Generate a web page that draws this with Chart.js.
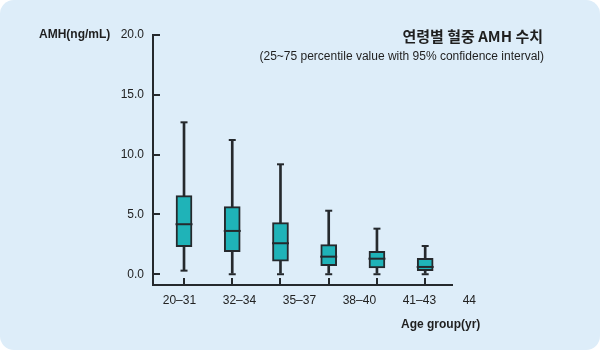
<!DOCTYPE html>
<html>
<head>
<meta charset="utf-8">
<script src="https://cdn.jsdelivr.net/npm/chart.js@4"></script>
<style>
html,body{margin:0;padding:0;background:#ffffff;}
#wrap{position:relative;width:600px;height:350px;background:#ddedf9;border-radius:14px;overflow:hidden;}
#c{position:absolute;left:0;top:0;}
.t{position:absolute;color:#1f1f1f;white-space:nowrap;font-family:"Liberation Sans",Arial,sans-serif;font-size:12px;line-height:12px;}
#title{right:57px;top:28px;font-family:"Noto Sans CJK KR",sans-serif;font-weight:700;font-size:15px;line-height:15px;}
#sub{right:56px;top:50px;}
#ylab{left:39px;top:28px;font-weight:700;}
#xlab{left:401px;top:318px;font-weight:700;}
</style>
</head>
<body>
<div id="wrap">
<canvas id="c" width="600" height="350"></canvas>
<div class="t" id="title">연령별 혈중 AMH 수치</div>
<div class="t" id="sub">(25~75 percentile value with 95% confidence interval)</div>
<div class="t" id="ylab">AMH(ng/mL)</div>
<div class="t" id="xlab">Age group(yr)</div>
</div>
<script>
// ---- data ----
const categories  = ['20–31', '32–34', '35–37', '38–40', '41–43', '44'];
const whiskerLow  = [0.30, 0.00, 0.00, 0.00, 0.00, 0.00];
const q1          = [2.31, 1.89, 1.09, 0.72, 0.53, 0.30];
const median      = [4.18, 3.62, 2.59, 1.47, 1.30, 0.61];
const q3          = [6.57, 5.65, 4.31, 2.47, 1.92, 1.34];
const whiskerHigh = [12.70, 11.22, 9.19, 5.31, 3.81, 2.36];
const yTicks      = [0, 5, 10, 15, 20];

// ---- styling ----
const DARK = '#25292d';
const TEAL = '#1fb3b8';
const TXT = '#222222';
const tickFont = {family: '"Liberation Sans", Arial, sans-serif', size: 12};

const pos = categories.map((c, i) => i + 1);

new Chart(document.getElementById('c'), {
  type: 'bar',
  data: {
    datasets: [
      {
        type: 'scatter', label: 'Median',
        data: pos.map((x, i) => ({x: x, y: median[i]})),
        pointStyle: 'line', pointRadius: 8.5, pointHoverRadius: 8.5,
        borderColor: DARK, pointBorderColor: DARK, pointBorderWidth: 2, borderWidth: 2,
        order: 0
      },
      {
        type: 'scatter', label: 'Caps',
        data: pos.map((x, i) => ({x: x, y: whiskerHigh[i]})).concat(pos.map((x, i) => ({x: x, y: whiskerLow[i]}))),
        pointStyle: 'line', pointRadius: 3.5, pointHoverRadius: 3.5,
        borderColor: DARK, pointBorderColor: DARK, pointBorderWidth: 2, borderWidth: 2,
        order: 1
      },
      {
        type: 'bar', label: 'IQR',
        data: pos.map((x, i) => ({x: x, y: [q1[i], q3[i]]})),
        backgroundColor: TEAL, borderColor: DARK, borderWidth: 2, borderSkipped: false,
        barThickness: 16, grouped: false, order: 2
      },
      {
        type: 'bar', label: 'Range',
        data: pos.map((x, i) => ({x: x, y: [whiskerLow[i], whiskerHigh[i]]})),
        backgroundColor: DARK, borderWidth: 0, barThickness: 2, grouped: false, order: 3
      }
    ]
  },
  options: {
    responsive: false,
    animation: false,
    devicePixelRatio: 1,
    layout: {padding: {left: 0, top: 35, right: 148, bottom: 0}},
    plugins: {legend: {display: false}, tooltip: {enabled: false}, title: {display: false}},
    scales: {
      x: {
        type: 'linear', position: 'bottom', min: 0.357, max: 6.556, weight: 0, offset: false,
        afterBuildTicks: s => { s.ticks = pos.map(v => ({value: v})); },
        afterFit: s => { s.height = 2; },
        ticks: {display: false},
        grid: {drawOnChartArea: false, drawTicks: true, tickLength: -7, color: DARK, lineWidth: 2, offset: false},
        border: {display: true, color: DARK, width: 2}
      },
      x2: {
        type: 'linear', position: 'bottom', axis: 'x', min: 0.838, max: 5.822, weight: 1, offset: false,
        afterBuildTicks: s => { s.ticks = pos.map(v => ({value: v})); },
        afterFit: s => { s.height = 63; },
        ticks: {
          autoSkip: false, maxRotation: 0, minRotation: 0, align: 'start', padding: 6,
          font: tickFont, color: TXT,
          callback: v => categories[Math.round(v) - 1]
        },
        grid: {display: false, drawTicks: false, drawOnChartArea: false, offset: false},
        border: {display: false}
      },
      y: {
        type: 'linear', position: 'left', min: -0.9, max: 20,
        afterBuildTicks: s => { s.ticks = yTicks.map(v => ({value: v})); },
        afterFit: s => { s.width = 153; },
        ticks: {padding: 16, font: tickFont, color: TXT, callback: v => Number(v).toFixed(1)},
        grid: {drawOnChartArea: false, drawTicks: true, tickLength: -7, color: DARK, lineWidth: 2},
        border: {display: true, color: DARK, width: 2}
      }
    }
  }
});
</script>
</body>
</html>
